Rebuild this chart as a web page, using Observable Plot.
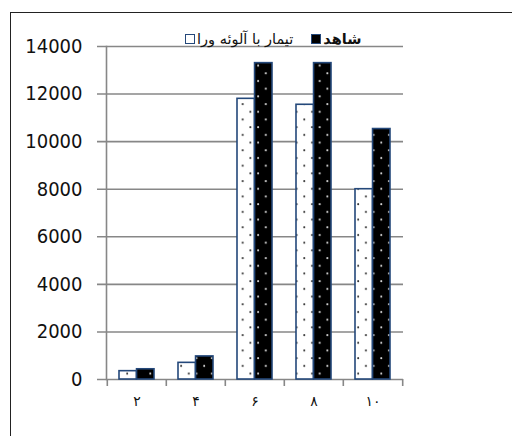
<!DOCTYPE html>
<html>
<head>
<meta charset="utf-8">
<script src="https://cdn.jsdelivr.net/npm/d3@7"></script>
<script src="https://cdn.jsdelivr.net/npm/@observablehq/plot@0.6"></script>
<style>
  html, body { margin: 0; padding: 0; background: #fff; overflow: hidden; }
  #wrap { position: relative; width: 512px; height: 436px; }
  #border { position: absolute; left: 10px; top: 12px; width: 600px; height: 500px; border: 1.5px solid #222; box-sizing: border-box; }
  #chart { position: absolute; left: 0; top: 0; }
  #legend { position: absolute; left: 185px; top: 31px; display: flex; align-items: center; font-family: "DejaVu Sans", sans-serif; font-size: 14.5px; color: #111; }
  .sw { width: 8px; height: 8px; border: 1.5px solid #24487a; display: inline-block; }
  .item { display: flex; align-items: center; }
  .item span.t { margin-left: 2px; direction: rtl; }
</style>
</head>
<body>
<div id="wrap">
  <div id="border"></div>
  <div id="chart"></div>
  <div id="legend"></div>
</div>
<script>
const categories = ["۲", "۴", "۶", "۸", "۱۰"];
const seriesNames = ["تیمار با آلوئه ورا", "شاهد"];
const treatmentValues = [350, 700, 11800, 11550, 8000];
const controlValues = [430, 970, 13300, 13300, 10530];
const yTicks = [0, 2000, 4000, 6000, 8000, 10000, 12000, 14000];

const treatment = categories.map((c, i) => ({cat: c, value: treatmentValues[i]}));
const control = categories.map((c, i) => ({cat: c, value: controlValues[i]}));

const gray = "#878787";
const blue = "#24487a";
const half = 17.55;
const step = 59.4;

const plot = Plot.plot({
  width: 512,
  height: 436,
  marginLeft: 106,
  marginRight: 109,
  marginTop: 46,
  marginBottom: 57,
  style: {background: "transparent", overflow: "visible"},
  x: {domain: categories, paddingInner: 0.41, paddingOuter: 0.205, axis: null},
  y: {domain: [0, 14000], axis: null},
  marks: [
    Plot.ruleY(yTicks, {stroke: gray, strokeWidth: 1.6, insetLeft: -9}),
    Plot.barY(treatment, {x: "cat", y: "value", fill: "url(#dotsW)", stroke: blue, strokeWidth: 1.6, insetRight: half}),
    Plot.barY(control, {x: "cat", y: "value", fill: "url(#dotsB)", stroke: blue, strokeWidth: 1.6, insetLeft: half}),
    Plot.frame({anchor: "left", stroke: gray, strokeWidth: 1.6}),
    Plot.ruleX(categories, {x: d => d, y1: 0, y2: 0, insetBottom: -7, dx: -step / 2, stroke: gray, strokeWidth: 1.6}),
    Plot.ruleX(categories.slice(-1), {x: d => d, y1: 0, y2: 0, insetBottom: -7, dx: step / 2, stroke: gray, strokeWidth: 1.6}),
    Plot.axisY({ticks: yTicks, tickFormat: d => String(d), tickSize: 0, tickPadding: 24, label: null, fontSize: 20, fontFamily: "'Liberation Sans Narrow', 'DejaVu Sans Condensed', sans-serif", fill: "#111"}),
    Plot.axisX({tickSize: 0, tickPadding: 17, label: null, fontSize: 14, fontFamily: "'DejaVu Sans', sans-serif", fill: "#111"})
  ]
});

plot.insertAdjacentHTML("afterbegin", `<defs>
  <pattern id="dotsW" width="15.4" height="15.4" patternUnits="userSpaceOnUse">
    <rect width="15.4" height="15.4" fill="#fff"/>
    <circle cx="4" cy="4" r="1" fill="#333"/>
    <circle cx="11.7" cy="11.7" r="1" fill="#333"/>
  </pattern>
  <pattern id="dotsB" width="15.4" height="15.4" patternUnits="userSpaceOnUse">
    <rect width="15.4" height="15.4" fill="#000"/>
    <circle cx="4" cy="11.7" r="1" fill="#ddd"/>
    <circle cx="11.7" cy="4" r="1" fill="#ddd"/>
  </pattern>
</defs>`);
document.getElementById("chart").appendChild(plot);

const legend = document.getElementById("legend");
legend.innerHTML = `
  <div class="item"><span class="sw" style="background:#fff"></span><span class="t">${seriesNames[0]}</span></div>
  <div class="item" style="margin-left:18px"><span class="sw" style="background:#000"></span><span class="t" style="font-weight:bold">${seriesNames[1]}</span></div>`;
</script>
</body>
</html>
